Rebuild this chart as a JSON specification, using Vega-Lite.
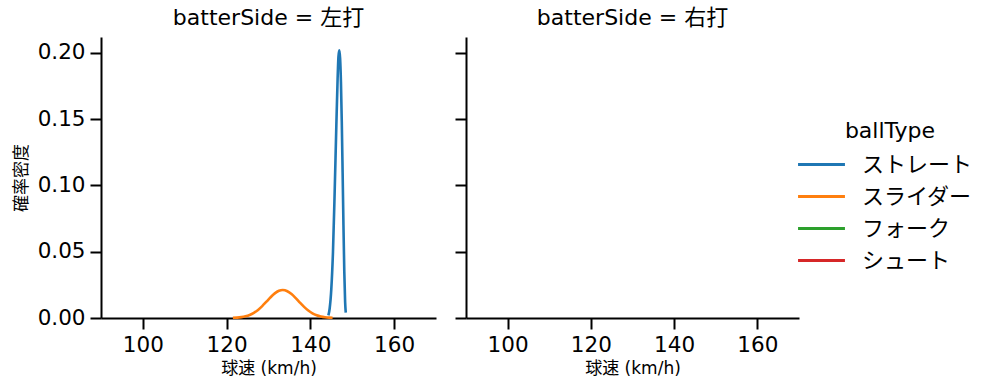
{
  "$schema": "https://vega.github.io/schema/vega-lite/v6.json",
  "background": "white",
  "padding": {"left": 12, "top": 7, "right": 5, "bottom": 5},
  "data": {"values": [
    {"batterSide": "左打", "ballType": "スライダー", "speed": 121.5, "density": 0.00014},
    {"batterSide": "左打", "ballType": "スライダー", "speed": 122.5, "density": 0.0003},
    {"batterSide": "左打", "ballType": "スライダー", "speed": 123.5, "density": 0.00064},
    {"batterSide": "左打", "ballType": "スライダー", "speed": 124.5, "density": 0.00126},
    {"batterSide": "左打", "ballType": "スライダー", "speed": 125.5, "density": 0.00229},
    {"batterSide": "左打", "ballType": "スライダー", "speed": 126.5, "density": 0.00389},
    {"batterSide": "左打", "ballType": "スライダー", "speed": 127.5, "density": 0.00611},
    {"batterSide": "左打", "ballType": "スライダー", "speed": 128.5, "density": 0.00898},
    {"batterSide": "左打", "ballType": "スライダー", "speed": 129.5, "density": 0.01228},
    {"batterSide": "左打", "ballType": "スライダー", "speed": 130.5, "density": 0.01564},
    {"batterSide": "左打", "ballType": "スライダー", "speed": 131.5, "density": 0.01856},
    {"batterSide": "左打", "ballType": "スライダー", "speed": 132.5, "density": 0.0205},
    {"batterSide": "左打", "ballType": "スライダー", "speed": 133.4, "density": 0.0211},
    {"batterSide": "左打", "ballType": "スライダー", "speed": 134.5, "density": 0.02021},
    {"batterSide": "左打", "ballType": "スライダー", "speed": 135.5, "density": 0.01804},
    {"batterSide": "左打", "ballType": "スライダー", "speed": 136.5, "density": 0.01499},
    {"batterSide": "左打", "ballType": "スライダー", "speed": 137.5, "density": 0.0116},
    {"batterSide": "左打", "ballType": "スライダー", "speed": 138.5, "density": 0.00836},
    {"batterSide": "左打", "ballType": "スライダー", "speed": 139.5, "density": 0.00561},
    {"batterSide": "左打", "ballType": "スライダー", "speed": 140.5, "density": 0.0035},
    {"batterSide": "左打", "ballType": "スライダー", "speed": 141.5, "density": 0.00204},
    {"batterSide": "左打", "ballType": "スライダー", "speed": 142.5, "density": 0.00111},
    {"batterSide": "左打", "ballType": "スライダー", "speed": 143.5, "density": 0.00056},
    {"batterSide": "左打", "ballType": "スライダー", "speed": 144.5, "density": 0.00026},
    {"batterSide": "左打", "ballType": "スライダー", "speed": 145.3, "density": 0.00014},
    {"batterSide": "左打", "ballType": "ストレート", "speed": 144.3, "density": 0.002},
    {"batterSide": "左打", "ballType": "ストレート", "speed": 144.6, "density": 0.007},
    {"batterSide": "左打", "ballType": "ストレート", "speed": 145.0, "density": 0.022},
    {"batterSide": "左打", "ballType": "ストレート", "speed": 145.4, "density": 0.05},
    {"batterSide": "左打", "ballType": "ストレート", "speed": 145.8, "density": 0.095},
    {"batterSide": "左打", "ballType": "ストレート", "speed": 146.2, "density": 0.145},
    {"batterSide": "左打", "ballType": "ストレート", "speed": 146.5, "density": 0.18},
    {"batterSide": "左打", "ballType": "ストレート", "speed": 146.7, "density": 0.197},
    {"batterSide": "左打", "ballType": "ストレート", "speed": 146.9, "density": 0.202},
    {"batterSide": "左打", "ballType": "ストレート", "speed": 147.1, "density": 0.196},
    {"batterSide": "左打", "ballType": "ストレート", "speed": 147.3, "density": 0.178},
    {"batterSide": "左打", "ballType": "ストレート", "speed": 147.5, "density": 0.148},
    {"batterSide": "左打", "ballType": "ストレート", "speed": 147.7, "density": 0.11},
    {"batterSide": "左打", "ballType": "ストレート", "speed": 147.9, "density": 0.07},
    {"batterSide": "左打", "ballType": "ストレート", "speed": 148.1, "density": 0.035},
    {"batterSide": "左打", "ballType": "ストレート", "speed": 148.3, "density": 0.012},
    {"batterSide": "左打", "ballType": "ストレート", "speed": 148.45, "density": 0.004}
  ]},
  "hconcat": [
    {
      "title": {"text": "batterSide = 左打"},
      "width": 335,
      "height": 281,
      "transform": [{"filter": "datum.batterSide === '左打'"}],
      "mark": {"type": "line", "strokeWidth": 2.6, "interpolate": "monotone"},
      "encoding": {
        "x": {"field": "speed", "type": "quantitative", "scale": {"domain": [90, 170], "nice": false, "zero": false}, "axis": {"values": [100, 120, 140, 160], "title": "球速 (km/h)"}},
        "y": {"field": "density", "type": "quantitative", "scale": {"domain": [0, 0.212], "nice": false}, "axis": {"values": [0, 0.05, 0.1, 0.15, 0.2], "format": ".2f", "title": "確率密度"}},
        "color": {"field": "ballType", "type": "nominal", "scale": {"domain": ["ストレート", "スライダー", "フォーク", "シュート"], "range": ["#1f77b4", "#ff7f0e", "#2ca02c", "#d62728"]}, "legend": {"orient": "none", "legendX": 707, "legendY": 84}}
      }
    },
    {
      "title": {"text": "batterSide = 右打"},
      "width": 333,
      "height": 281,
      "transform": [{"filter": "datum.batterSide === '右打'"}],
      "mark": {"type": "line", "strokeWidth": 2.6, "interpolate": "monotone"},
      "encoding": {
        "x": {"field": "speed", "type": "quantitative", "scale": {"domain": [90, 170], "nice": false, "zero": false}, "axis": {"values": [100, 120, 140, 160], "title": "球速 (km/h)"}},
        "y": {"field": "density", "type": "quantitative", "scale": {"domain": [0, 0.212], "nice": false}, "axis": {"values": [0, 0.05, 0.1, 0.15, 0.2], "labels": false, "title": null}},
        "color": {"field": "ballType", "type": "nominal", "scale": {"domain": ["ストレート", "スライダー", "フォーク", "シュート"], "range": ["#1f77b4", "#ff7f0e", "#2ca02c", "#d62728"]}, "legend": {"orient": "none", "legendX": 707, "legendY": 84}}
      }
    }
  ],
  "spacing": 18,
  "config": {
    "font": "DejaVu Sans, Noto Sans CJK JP",
    "view": {"stroke": null},
    "title": {"fontSize": 22, "fontWeight": "normal", "color": "black", "offset": 7, "font": "DejaVu Sans, Noto Sans CJK JP"},
    "axis": {
      "grid": false,
      "domainColor": "black",
      "domainWidth": 2,
      "tickColor": "black",
      "tickWidth": 2,
      "tickSize": 11,
      "labelFontSize": 21.5,
      "labelColor": "black",
      "labelFont": "DejaVu Sans, Noto Sans CJK JP",
      "labelPadding": 5,
      "titleFontSize": 17,
      "titleFontWeight": "normal",
      "titleColor": "black",
      "titleFont": "DejaVu Sans, Noto Sans CJK JP"
    },
    "axisX": {"titlePadding": 5},
    "axisY": {"titlePadding": 7},
    "legend": {
      "titleFont": "DejaVu Sans, Noto Sans CJK JP",
      "labelFont": "DejaVu Sans, Noto Sans CJK JP",
      "titleFontSize": 22,
      "titleFontWeight": "normal",
      "titleColor": "black",
      "labelFontSize": 22,
      "labelColor": "black",
      "symbolType": "M-2,0H2",
      "symbolSize": 550,
      "symbolStrokeWidth": 3,
      "symbolFillColor": "transparent",
      "rowPadding": 7,
      "labelOffset": 27,
      "padding": 0,
      "titleAlign": "center",
      "titleAnchor": "middle",
      "titlePadding": 8
    }
  }
}
